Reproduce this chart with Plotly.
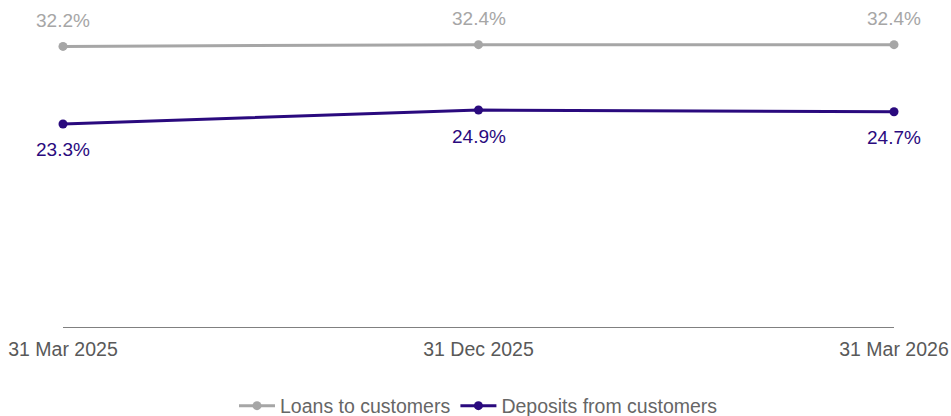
import plotly.graph_objects as go

categories = ["31 Mar 2025", "31 Dec 2025", "31 Mar 2026"]
loans = [32.2, 32.4, 32.4]
deposits = [23.3, 24.9, 24.7]
series_names = ["Loans to customers", "Deposits from customers"]

GREY = "#a6a6a6"
PURPLE = "#2a0a7e"
xpos = list(range(len(categories)))

fig = go.Figure()
fig.add_trace(go.Scatter(x=xpos, y=loans, mode="lines+markers", name=series_names[0],
                         line=dict(color=GREY, width=3), marker=dict(color=GREY, size=9),
                         cliponaxis=False, hoverinfo="skip"))
fig.add_trace(go.Scatter(x=xpos, y=deposits, mode="lines+markers", name=series_names[1],
                         line=dict(color=PURPLE, width=3), marker=dict(color=PURPLE, size=9),
                         cliponaxis=False, hoverinfo="skip"))

label_font = "Liberation Sans Narrow, Arial Narrow, Liberation Sans, Arial, sans-serif"
annotations = []
for xv, v in zip(xpos, loans):
    annotations.append(dict(x=xv, y=v, text=f"{v:.1f}%", showarrow=False, yshift=26,
                            font=dict(family=label_font, size=19, color=GREY)))
for xv, v in zip(xpos, deposits):
    annotations.append(dict(x=xv, y=v, text=f"{v:.1f}%", showarrow=False, yshift=-26,
                            font=dict(family=label_font, size=19, color=PURPLE)))

fig.update_layout(
    width=951, height=416,
    margin=dict(l=63, r=57, t=22, b=89, pad=0, autoexpand=False),
    paper_bgcolor="white", plot_bgcolor="white",
    font=dict(family="Liberation Sans, Arial, sans-serif", color="#595959"),
    showlegend=True,
    legend=dict(orientation="h", x=0.5, xanchor="center", y=-0.259, yanchor="middle",
                font=dict(size=19.5, color="#666666"), itemwidth=36, tracegroupgap=0),
    annotations=annotations,
    xaxis=dict(range=[0, 2], tickvals=xpos, ticktext=categories, showgrid=False,
               zeroline=False, showline=True, linecolor="#808080", linewidth=1,
               ticks="outside", ticklen=5, tickcolor="rgba(0,0,0,0)", automargin=False,
               tickfont=dict(size=19.5, color="#595959"), fixedrange=True),
    yaxis=dict(range=[0, 35], visible=False, showgrid=False, zeroline=False,
               automargin=False, fixedrange=True),
)

fig.write_html("out.html", config={"displayModeBar": False})
